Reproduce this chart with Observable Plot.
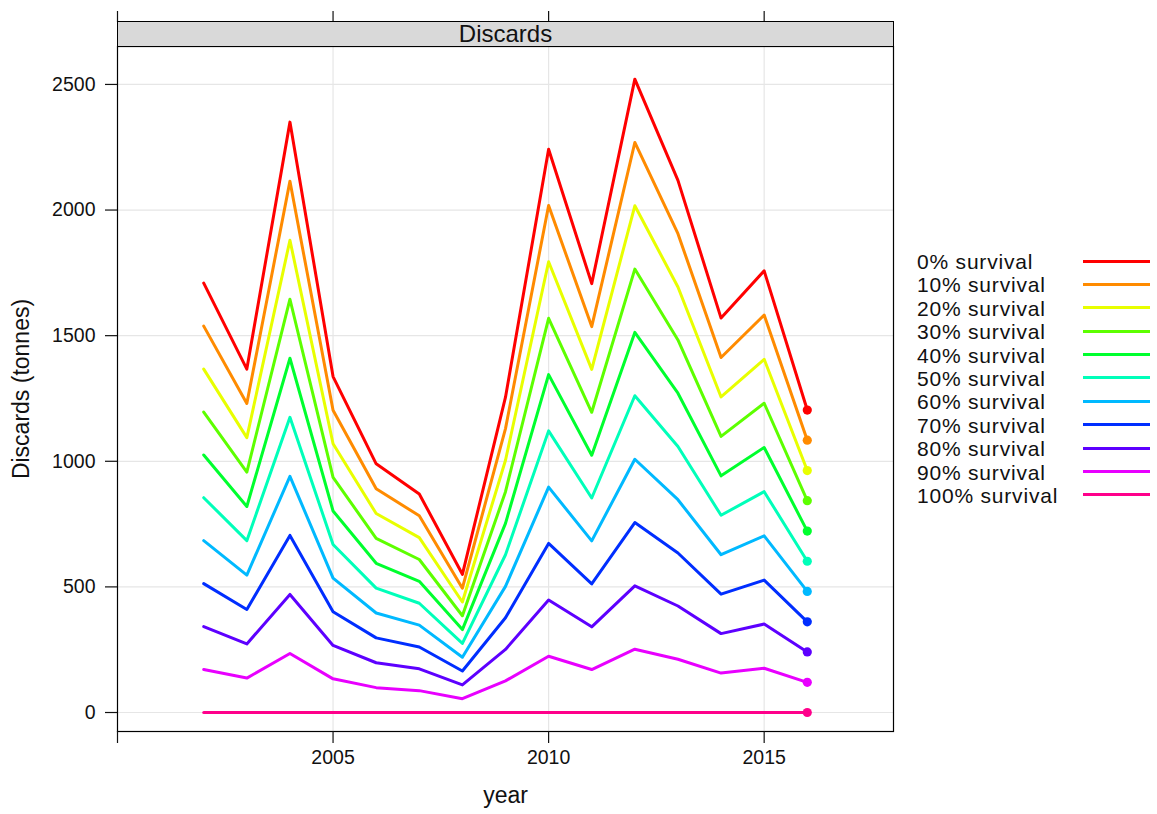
<!DOCTYPE html>
<html>
<head>
<meta charset="utf-8">
<script src="https://cdn.jsdelivr.net/npm/d3@7"></script>
<script src="https://cdn.jsdelivr.net/npm/@observablehq/plot@0.6"></script>
<style>
  html, body { margin: 0; padding: 0; background: #fff; }
  #wrap { position: relative; width: 1157px; height: 814px; font-family: "Liberation Sans", Arial, sans-serif; }
  #strip { position: absolute; left: 117px; top: 21px; width: 777px; height: 26px; box-sizing: border-box;
           background: #d9d9d9; border: 1px solid #000; font-size: 24px; line-height: 24px; text-align: center; color: #111; }
  #legend { position: absolute; left: 917px; top: 250px; width: 236px; }
  .row { position: relative; height: 23.4px; font-size: 21px; letter-spacing: 0.8px; line-height: 23.4px; color: #111; white-space: nowrap; }
  .row .swatch { position: absolute; left: 166px; top: 9.5px; width: 67px; height: 3px; }
</style>
</head>
<body>
<div id="wrap">
  <div id="chart"></div>
  <div id="strip">Discards</div>
  <div id="legend"></div>
</div>
<script>
// Annual discards (tonnes) under different discard-survival assumptions
const years = [2002, 2003, 2004, 2005, 2006, 2007, 2008, 2009, 2010, 2011, 2012, 2013, 2014, 2015, 2016];

const seriesNames = ["0% survival", "10% survival", "20% survival", "30% survival", "40% survival",
  "50% survival", "60% survival", "70% survival", "80% survival", "90% survival", "100% survival"];

const seriesColors = ["#FF0000", "#FF8B00", "#E8FF00", "#5DFF00", "#00FF2E", "#00FFB9",
  "#00B9FF", "#002EFF", "#5D00FF", "#E800FF", "#FF008B"];

const surv0   = [1709, 1367, 2350, 1337, 990, 870, 550, 1255, 2242, 1707, 2521, 2118, 1570, 1758, 1204];
const surv10  = [1538, 1230, 2115, 1203, 891, 783, 495, 1130, 2018, 1536, 2269, 1906, 1413, 1582, 1084];
const surv20  = [1367, 1094, 1880, 1070, 792, 696, 440, 1004, 1794, 1366, 2017, 1694, 1256, 1406, 963];
const surv30  = [1196, 957, 1645, 936, 693, 609, 385, 879, 1569, 1195, 1765, 1483, 1099, 1231, 843];
const surv40  = [1025, 820, 1410, 802, 594, 522, 330, 753, 1345, 1024, 1513, 1271, 942, 1055, 722];
const surv50  = [855, 684, 1175, 669, 495, 435, 275, 628, 1121, 854, 1261, 1059, 785, 879, 602];
const surv60  = [684, 547, 940, 535, 396, 348, 220, 502, 897, 683, 1008, 847, 628, 703, 482];
const surv70  = [513, 410, 705, 401, 297, 261, 165, 377, 673, 512, 756, 635, 471, 527, 361];
const surv80  = [342, 273, 470, 267, 198, 174, 110, 251, 448, 341, 504, 424, 314, 352, 241];
const surv90  = [171, 137, 235, 134, 99, 87, 55, 126, 224, 171, 252, 212, 157, 176, 120];
const surv100 = [0, 0, 0, 0, 0, 0, 0, 0, 0, 0, 0, 0, 0, 0, 0];

const seriesValues = [surv0, surv10, surv20, surv30, surv40, surv50, surv60, surv70, surv80, surv90, surv100];

const xTicks = [2000, 2005, 2010, 2015];
const yTicks = [0, 500, 1000, 1500, 2000, 2500];

// long table for Plot
const rows = [];
seriesNames.forEach((name, i) => {
  years.forEach((yr, j) => rows.push({series: name, year: yr, value: seriesValues[i][j]}));
});
const lastYear = years[years.length - 1];
const endRows = rows.filter(d => d.year === lastYear);

// the tick at the left edge of the panel carries no label
const fmt = d => (d === 2000 ? "" : String(d));

const chart = Plot.plot({
  width: 1157,
  height: 814,
  marginLeft: 117,
  marginRight: 264,
  marginTop: 46,
  marginBottom: 83,
  x: {domain: [2000, 2018], axis: null},
  y: {domain: [-75.6, 2651], axis: null},
  color: {domain: seriesNames, range: seriesColors},
  style: {fontFamily: "'Liberation Sans', Arial, sans-serif", background: "white", color: "#111"},
  marks: [
    Plot.gridX({ticks: [2005, 2010, 2015], stroke: "#e6e6e6", strokeOpacity: 1, strokeWidth: 1.2}),
    Plot.gridY({ticks: yTicks, stroke: "#e6e6e6", strokeOpacity: 1, strokeWidth: 1.2}),
    Plot.line(rows, {x: "year", y: "value", z: "series", stroke: "series", strokeWidth: 3, strokeLinejoin: "round"}),
    Plot.dot(endRows, {x: "year", y: "value", fill: "series", r: 4.6}),
    Plot.frame({stroke: "#000", strokeWidth: 1.2}),
    Plot.axisX({anchor: "bottom", ticks: xTicks, tickSize: 12, tickPadding: 7, tickFormat: fmt, label: null, fontSize: 19.5, strokeWidth: 1.2}),
    Plot.axisX({anchor: "top", ticks: xTicks, tickSize: 11, tickFormat: () => "", label: null, dy: -25, strokeWidth: 1.2}),
    Plot.axisY({anchor: "left", ticks: yTicks, tickSize: 12, tickPadding: 10, tickFormat: d => String(d), label: null, fontSize: 19.5, strokeWidth: 1.2}),
    Plot.text(["Discards (tonnes)"], {frameAnchor: "left", dx: -96, rotate: -90, textAnchor: "middle", lineAnchor: "middle", fontSize: 23, fill: "#111"}),
    Plot.text(["year"], {frameAnchor: "bottom", dy: 64, textAnchor: "middle", lineAnchor: "middle", fontSize: 23, fill: "#111"})
  ]
});
document.getElementById("chart").appendChild(chart);

// key: series name with a line sample in its colour
const legend = document.getElementById("legend");
seriesNames.forEach((name, i) => {
  const row = document.createElement("div");
  row.className = "row";
  row.textContent = name;
  const sw = document.createElement("span");
  sw.className = "swatch";
  sw.style.background = seriesColors[i];
  row.appendChild(sw);
  legend.appendChild(row);
});
</script>
</body>
</html>
